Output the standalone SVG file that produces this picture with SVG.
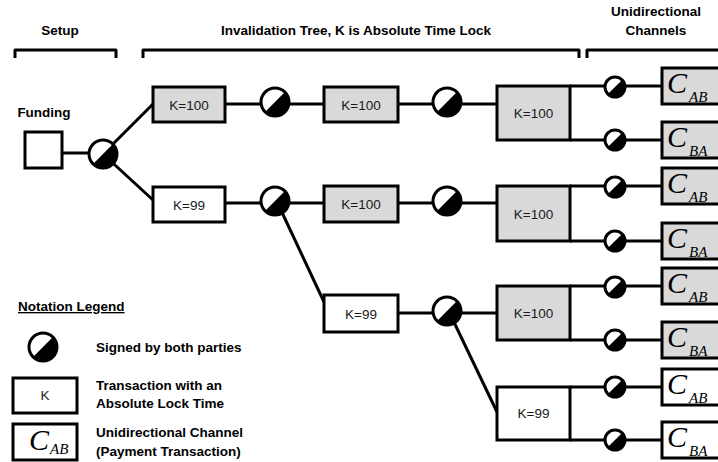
<svg xmlns="http://www.w3.org/2000/svg" xmlns:xlink="http://www.w3.org/1999/xlink" width="718" height="462" viewBox="0 0 718 462">
<style>
.hd{font-family:"Liberation Sans",Arial,sans-serif;font-weight:bold;font-size:13.5px;fill:#000}
.lg{font-family:"Liberation Sans",Arial,sans-serif;font-weight:bold;font-size:13.5px;fill:#000}
.kt{font-family:"Liberation Sans",Arial,sans-serif;font-size:13.5px;fill:#1a1a1a;text-anchor:middle}
.cc{font-family:"Liberation Serif","Times New Roman",serif;font-style:italic;fill:#000}
.box{stroke:#000;stroke-width:3;stroke-linejoin:miter}
.g{fill:#d9d9d9}
.w{fill:#fff}
.ln{stroke:#000;stroke-width:3;fill:none}
.br{stroke:#000;stroke-width:3;fill:none;stroke-linejoin:round}
</style>
<defs>
<g id="sigL">
<circle r="14" fill="#fff"/>
<path d="M-9.9,9.9 A14,14 0 0 0 9.9,-9.9 Z" fill="#000"/>
<circle r="14" fill="none" stroke="#000" stroke-width="3"/>
</g>
<g id="sigS">
<circle r="10" fill="#fff"/>
<path d="M-7.07,7.07 A10,10 0 0 0 7.07,-7.07 Z" fill="#000"/>
<circle r="10" fill="none" stroke="#000" stroke-width="3"/>
</g>
</defs>

<g id="headers">
<text class="hd" x="60" y="35" text-anchor="middle">Setup</text>
<text class="hd" x="356" y="35" text-anchor="middle">Invalidation Tree, K is Absolute Time Lock</text>
<text class="hd" x="656" y="16" text-anchor="middle">Unidirectional</text>
<text class="hd" x="656" y="35" text-anchor="middle">Channels</text>
<path class="br" d="M15,58 V50 H116 V58"/>
<path class="br" d="M143,58 V50 H579 V58"/>
<path class="br" d="M587,58 V50 H730"/>
<text class="hd" x="44" y="117" text-anchor="middle">Funding</text>
</g>

<g id="connectors">
<line class="ln" x1="62" y1="153" x2="95" y2="153"/>
<line class="ln" x1="103" y1="154" x2="153" y2="104"/>
<line class="ln" x1="103" y1="154" x2="153" y2="200"/>
<line class="ln" x1="225" y1="104" x2="324" y2="104"/>
<line class="ln" x1="398" y1="104" x2="497" y2="104"/>
<line class="ln" x1="570" y1="86" x2="662" y2="86"/>
<line class="ln" x1="570" y1="140" x2="662" y2="140"/>
<line class="ln" x1="225" y1="203" x2="324" y2="203"/>
<line class="ln" x1="398" y1="203" x2="497" y2="203"/>
<line class="ln" x1="570" y1="186" x2="662" y2="186"/>
<line class="ln" x1="570" y1="241" x2="662" y2="241"/>
<line class="ln" x1="279" y1="206" x2="324" y2="302"/>
<line class="ln" x1="398" y1="313" x2="497" y2="313"/>
<line class="ln" x1="570" y1="286" x2="662" y2="286"/>
<line class="ln" x1="570" y1="340" x2="662" y2="340"/>
<line class="ln" x1="451" y1="316" x2="497" y2="412"/>
<line class="ln" x1="570" y1="387" x2="662" y2="387"/>
<line class="ln" x1="570" y1="440" x2="662" y2="440"/>
</g>

<g id="funding"><rect class="box w" x="25" y="132" width="37" height="36"/></g>
<g id="s1"><use xlink:href="#sigL" href="#sigL" x="103" y="154"/></g>

<g id="t1"><rect class="box g" x="153" y="87" width="72" height="35"/><text class="kt" x="189" y="109.5">K=100</text></g>
<g id="s2"><use href="#sigL" xlink:href="#sigL" x="275" y="102"/></g>
<g id="t2"><rect class="box g" x="324" y="87" width="74" height="35"/><text class="kt" x="361" y="109.5">K=100</text></g>
<g id="s3"><use href="#sigL" xlink:href="#sigL" x="447" y="102"/></g>
<g id="t3"><rect class="box g" x="497" y="86" width="73" height="54"/><text class="kt" x="533.5" y="118">K=100</text></g>
<g id="s3a"><use href="#sigS" xlink:href="#sigS" x="615" y="87"/></g>
<g id="s3b"><use href="#sigS" xlink:href="#sigS" x="615" y="140"/></g>
<g id="c1"><rect class="box g" x="662" y="68" width="70" height="36"/><text class="cc" x="667" y="93" font-size="30">C<tspan font-size="15" dx="2" dy="9">AB</tspan></text></g>
<g id="c2"><rect class="box g" x="662" y="122" width="70" height="36"/><text class="cc" x="667" y="147" font-size="30">C<tspan font-size="15" dx="2" dy="9">BA</tspan></text></g>

<g id="t4"><rect class="box w" x="153" y="187" width="72" height="35"/><text class="kt" x="189" y="209.5">K=99</text></g>
<g id="s4"><use href="#sigL" xlink:href="#sigL" x="275" y="201"/></g>
<g id="t5"><rect class="box g" x="324" y="186" width="74" height="36"/><text class="kt" x="361" y="209">K=100</text></g>
<g id="s5"><use href="#sigL" xlink:href="#sigL" x="447" y="201"/></g>
<g id="t6"><rect class="box g" x="497" y="186" width="73" height="55"/><text class="kt" x="533.5" y="218.5">K=100</text></g>
<g id="s6a"><use href="#sigS" xlink:href="#sigS" x="615" y="187"/></g>
<g id="s6b"><use href="#sigS" xlink:href="#sigS" x="615" y="241"/></g>
<g id="c3"><rect class="box g" x="662" y="168" width="70" height="36"/><text class="cc" x="667" y="193" font-size="30">C<tspan font-size="15" dx="2" dy="9">AB</tspan></text></g>
<g id="c4"><rect class="box g" x="662" y="223" width="70" height="36"/><text class="cc" x="667" y="248" font-size="30">C<tspan font-size="15" dx="2" dy="9">BA</tspan></text></g>

<g id="t7"><rect class="box w" x="324" y="295" width="74" height="37"/><text class="kt" x="361" y="318.5">K=99</text></g>
<g id="s7"><use href="#sigL" xlink:href="#sigL" x="447" y="311"/></g>
<g id="t8"><rect class="box g" x="497" y="286" width="73" height="54"/><text class="kt" x="533.5" y="318">K=100</text></g>
<g id="s8a"><use href="#sigS" xlink:href="#sigS" x="615" y="287"/></g>
<g id="s8b"><use href="#sigS" xlink:href="#sigS" x="615" y="340"/></g>
<g id="c5"><rect class="box g" x="662" y="268" width="70" height="36"/><text class="cc" x="667" y="293" font-size="30">C<tspan font-size="15" dx="2" dy="9">AB</tspan></text></g>
<g id="c6"><rect class="box g" x="662" y="322" width="70" height="36"/><text class="cc" x="667" y="347" font-size="30">C<tspan font-size="15" dx="2" dy="9">BA</tspan></text></g>

<g id="t9"><rect class="box w" x="497" y="387" width="73" height="53"/><text class="kt" x="533.5" y="418">K=99</text></g>
<g id="s9a"><use href="#sigS" xlink:href="#sigS" x="615" y="387"/></g>
<g id="s9b"><use href="#sigS" xlink:href="#sigS" x="615" y="440"/></g>
<g id="c7"><rect class="box w" x="662" y="369" width="70" height="36"/><text class="cc" x="667" y="394" font-size="30">C<tspan font-size="15" dx="2" dy="9">AB</tspan></text></g>
<g id="c8"><rect class="box w" x="662" y="422" width="70" height="36"/><text class="cc" x="667" y="447" font-size="30">C<tspan font-size="15" dx="2" dy="9">BA</tspan></text></g>

<g id="legend">
<text class="lg" x="18" y="311" text-decoration="underline">Notation Legend</text>
<use href="#sigL" xlink:href="#sigL" x="43" y="347"/>
<text class="lg" x="96" y="352">Signed by both parties</text>
<rect class="box w" x="13" y="378" width="64" height="35"/>
<text class="kt" x="45" y="400">K</text>
<text class="lg" x="96" y="390">Transaction with an</text>
<text class="lg" x="96" y="408">Absolute Lock Time</text>
<rect class="box w" x="13" y="424" width="64" height="36"/>
<text class="cc" x="29" y="450" font-size="30">C<tspan font-size="15" dx="1" dy="4">AB</tspan></text>
<text class="lg" x="96" y="437">Unidirectional Channel</text>
<text class="lg" x="96" y="456">(Payment Transaction)</text>
</g>
</svg>
